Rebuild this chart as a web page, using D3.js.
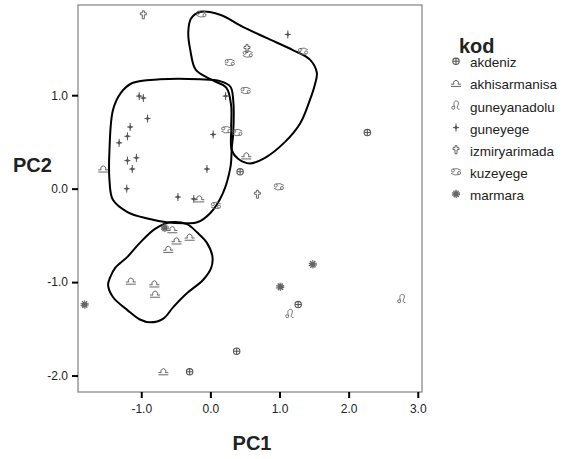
<!DOCTYPE html>
<html>
<head>
<meta charset="utf-8">
<script src="https://cdn.jsdelivr.net/npm/d3@7"></script>
<style>
  body { margin: 0; background: #fff; }
  text { font-family: "Liberation Sans", Arial, Helvetica, sans-serif; }
</style>
</head>
<body>
<div id="main"></div>
<script>
const ctx = {
    w: 568,
    h: 459,
};

// legend order / categories
const categories = ["akdeniz", "akhisarmanisa", "guneyanadolu", "guneyege", "izmiryarimada", "kuzeyege", "marmara"];

// [PC1, PC2] per group
const akdenizPts = [[2.27, 0.60], [0.43, 0.18], [0.38, -1.74], [-0.30, -1.96], [1.27, -1.24]];
const akhisarmanisaPts = [[-1.55, 0.21], [-0.16, -0.11], [-0.55, -0.44], [-0.30, -0.52], [-0.49, -0.56],
    [-0.61, -0.65], [0.52, 0.35], [-1.15, -0.99], [-0.81, -1.02], [-0.80, -1.13], [-0.68, -1.96]];
const guneyanadoluPts = [[1.15, -1.34], [2.77, -1.18]];
const guneyegePts = [[1.12, 1.65], [-1.03, 0.99], [-0.97, 0.97], [0.22, 0.99], [-0.91, 0.75], [-1.16, 0.66],
    [-1.20, 0.56], [-1.32, 0.49], [0.04, 0.58], [-1.20, 0.30], [-1.07, 0.33], [-1.13, 0.21], [-0.05, 0.21],
    [-1.21, 0.00], [-0.47, -0.09], [-0.24, -0.11]];
const izmiryarimadaPts = [[-0.97, 1.86], [0.53, 1.50], [0.68, -0.06]];
const kuzeyegePts = [[-0.13, 1.87], [0.54, 1.44], [1.34, 1.47], [0.28, 1.35], [0.51, 1.05], [0.23, 0.63],
    [0.39, 0.60], [0.08, -0.18], [0.99, 0.02]];
const marmaraPts = [[-0.66, -0.42], [-1.82, -1.24], [1.48, -0.81], [1.01, -1.05]];

// hand drawn group outlines (data units)
const loopGuneyege = [[-1.13, 1.13], [-0.73, 1.17], [-0.15, 1.17], [0.14, 1.15], [0.29, 1.09], [0.33, 0.95],
    [0.33, 0.59], [0.31, 0.44], [0.29, 0.23], [0.18, -0.05], [0.00, -0.26], [-0.19, -0.36], [-0.34, -0.37],
    [-0.63, -0.36], [-0.91, -0.32], [-1.20, -0.25], [-1.41, -0.12], [-1.46, 0.09], [-1.46, 0.41],
    [-1.41, 0.84], [-1.30, 1.02]];
const loopKuzeyege = [[-0.21, 1.27], [-0.29, 1.48], [-0.32, 1.67], [-0.28, 1.82], [-0.15, 1.89], [0.14, 1.86],
    [0.47, 1.73], [0.82, 1.61], [1.20, 1.48], [1.44, 1.38], [1.54, 1.24], [1.51, 1.11], [1.44, 0.95],
    [1.30, 0.70], [1.08, 0.50], [0.79, 0.33], [0.57, 0.27], [0.40, 0.32], [0.31, 0.41], [0.30, 0.63],
    [0.30, 0.89], [0.23, 1.08], [0.03, 1.16]];
const loopAkhisar = [[-0.58, -0.36], [-0.34, -0.38], [-0.19, -0.47], [-0.05, -0.58], [0.03, -0.73],
    [0.01, -0.85], [-0.11, -0.98], [-0.34, -1.12], [-0.54, -1.27], [-0.68, -1.39], [-0.87, -1.43],
    [-1.02, -1.40], [-1.20, -1.30], [-1.41, -1.16], [-1.48, -1.03], [-1.45, -0.95], [-1.38, -0.85],
    [-1.20, -0.73], [-1.02, -0.58], [-0.80, -0.43]];

const xTicks = [-1, 0, 1, 2, 3];
const yTicks = [-2, -1, 0, 1];

const seriesPts = {
    akdeniz: akdenizPts, akhisarmanisa: akhisarmanisaPts, guneyanadolu: guneyanadoluPts,
    guneyege: guneyegePts, izmiryarimada: izmiryarimadaPts, kuzeyege: kuzeyegePts, marmara: marmaraPts
};

const markCol = "#555";

// SPSS-like marker shapes, centred on 0,0
function drawMark(g, cat) {
    if (cat == "kuzeyege") {
        // sideways "69"
        g.append("path")
         .attr("d", "M-4.6,-1.2a1.5,1.5 0 1 0 3,0a1.5,1.5 0 1 0 -3,0M-3.1,-2.7Q1.5,-4.2 5,-1.4" +
                    "M1.6,1.2a1.5,1.5 0 1 0 3,0a1.5,1.5 0 1 0 -3,0M3.1,2.7Q-1.5,4.2 -5,1.4")
         .attr("fill", "none").attr("stroke", "#666").attr("stroke-width", 0.9);
    } else if (cat == "akhisarmanisa") {
        g.append("path")
         .attr("d", "M-5,3H5M-5,0.8H-2.1A2.5,2.5 0 1 1 2.1,0.8H5")
         .attr("fill", "none").attr("stroke", "#555").attr("stroke-width", 0.9);
    } else if (cat == "guneyanadolu") {
        g.append("path")
         .attr("d", "M-4.2,2.3a1.5,1.5 0 1 0 3,0a1.5,1.5 0 1 0 -3,0" +
                    "M-1.3,1.8C-2.8,-1.5 -2,-4.6 0.4,-4.6C2.8,-4.6 3,-2 1.8,0.2C0.8,2 1.2,4.2 3.6,3.6")
         .attr("fill", "none").attr("stroke", "#666").attr("stroke-width", 0.9);
    } else if (cat == "guneyege") {
        g.append("path").attr("d", "M0,-4V4M-3,0H3").attr("stroke", markCol).attr("stroke-width", 1);
        g.append("path").attr("d", "M0,-2L2,0L0,2L-2,0Z").attr("fill", markCol);
    } else if (cat == "izmiryarimada") {
        g.append("path").attr("d", "M-1,-4H1V-2H3V0H1V4H-1V0H-3V-2H-1Z")
         .attr("fill", "#fff").attr("stroke", markCol).attr("stroke-width", 0.9);
    } else if (cat == "akdeniz") {
        g.append("circle").attr("r", 3.2).attr("fill", "#fff").attr("stroke", markCol).attr("stroke-width", 1.1);
        g.append("path").attr("d", "M0,-3V3M-3,0H3").attr("stroke", markCol).attr("stroke-width", 1.1);
    } else if (cat == "marmara") {
        g.append("circle").attr("r", 2.9).attr("fill", "#666");
        g.append("circle").attr("r", 3.5).attr("fill", "none").attr("stroke", "#666")
         .attr("stroke-width", 1.2).attr("stroke-dasharray", "1.4,0.8");
    }
}

function createPlot(svgEl) {
    const x = d3.scaleLinear().domain([-1.915, 3.061]).range([78, 422]);
    const y = d3.scaleLinear().domain([1.965, -2.176]).range([5, 392]);

    // frame
    svgEl.append("rect")
         .attr("x", 78).attr("y", 5)
         .attr("width", 344).attr("height", 387)
         .attr("fill", "none").attr("stroke", "#808080").attr("stroke-width", 1.2);

    const xAxis = svgEl.append("g")
         .attr("transform", "translate(0,392)")
         .call(d3.axisBottom(x).tickValues(xTicks).tickSize(6).tickSizeOuter(0).tickPadding(6.5)
                 .tickFormat(d => d.toFixed(1)));
    const yAxis = svgEl.append("g")
         .attr("transform", "translate(78,0)")
         .call(d3.axisLeft(y).tickValues(yTicks).tickSize(6).tickSizeOuter(0).tickPadding(4)
                 .tickFormat(d => d.toFixed(1)));
    [xAxis, yAxis].forEach(a => {
        a.select(".domain").remove();
        a.selectAll(".tick line").attr("stroke", "#000").attr("stroke-width", 2);
        a.selectAll(".tick text").attr("fill", "#222")
         .style("font-family", "'Liberation Sans', Arial, sans-serif").style("font-size", "12px");
    });

    // outlines
    const loop = d3.line().x(d => x(d[0])).y(d => y(d[1])).curve(d3.curveCatmullRomClosed.alpha(0.5));
    [loopGuneyege, loopKuzeyege, loopAkhisar].forEach(l => {
        svgEl.append("path").attr("d", loop(l))
             .attr("fill", "none").attr("stroke", "#000").attr("stroke-width", 2);
    });

    // points
    categories.forEach(cat => {
        svgEl.append("g").selectAll("g")
             .data(seriesPts[cat])
             .enter().append("g")
             .attr("transform", d => `translate(${x(d[0])},${y(d[1])})`)
             .each(function() { drawMark(d3.select(this), cat); });
    });

    // axis titles
    svgEl.append("text").attr("x", 252).attr("y", 450).attr("text-anchor", "middle")
         .style("font-size", "20px").style("font-weight", "bold").attr("fill", "#222").text("PC1");
    svgEl.append("text").attr("x", 13).attr("y", 172)
         .style("font-size", "20px").style("font-weight", "bold").attr("fill", "#222").text("PC2");

    // legend
    const leg = svgEl.append("g");
    leg.append("text").attr("x", 459).attr("y", 53)
       .style("font-size", "20px").style("font-weight", "bold").attr("fill", "#222").text("kod");
    categories.forEach((cat, i) => {
        const by = 67.3 + i * 22.1;
        const s = leg.append("g").attr("transform", `translate(456,${by - 6})`);
        drawMark(s, cat);
        leg.append("text").attr("x", 470).attr("y", by)
           .style("font-size", "13.5px").attr("fill", "#222").text(cat);
    });
}

function createViz() {
    const svgEl = d3.select("#main").append("svg")
      .attr("width", ctx.w)
      .attr("height", ctx.h);

    createPlot(svgEl);
}

createViz();
</script>
</body>
</html>
